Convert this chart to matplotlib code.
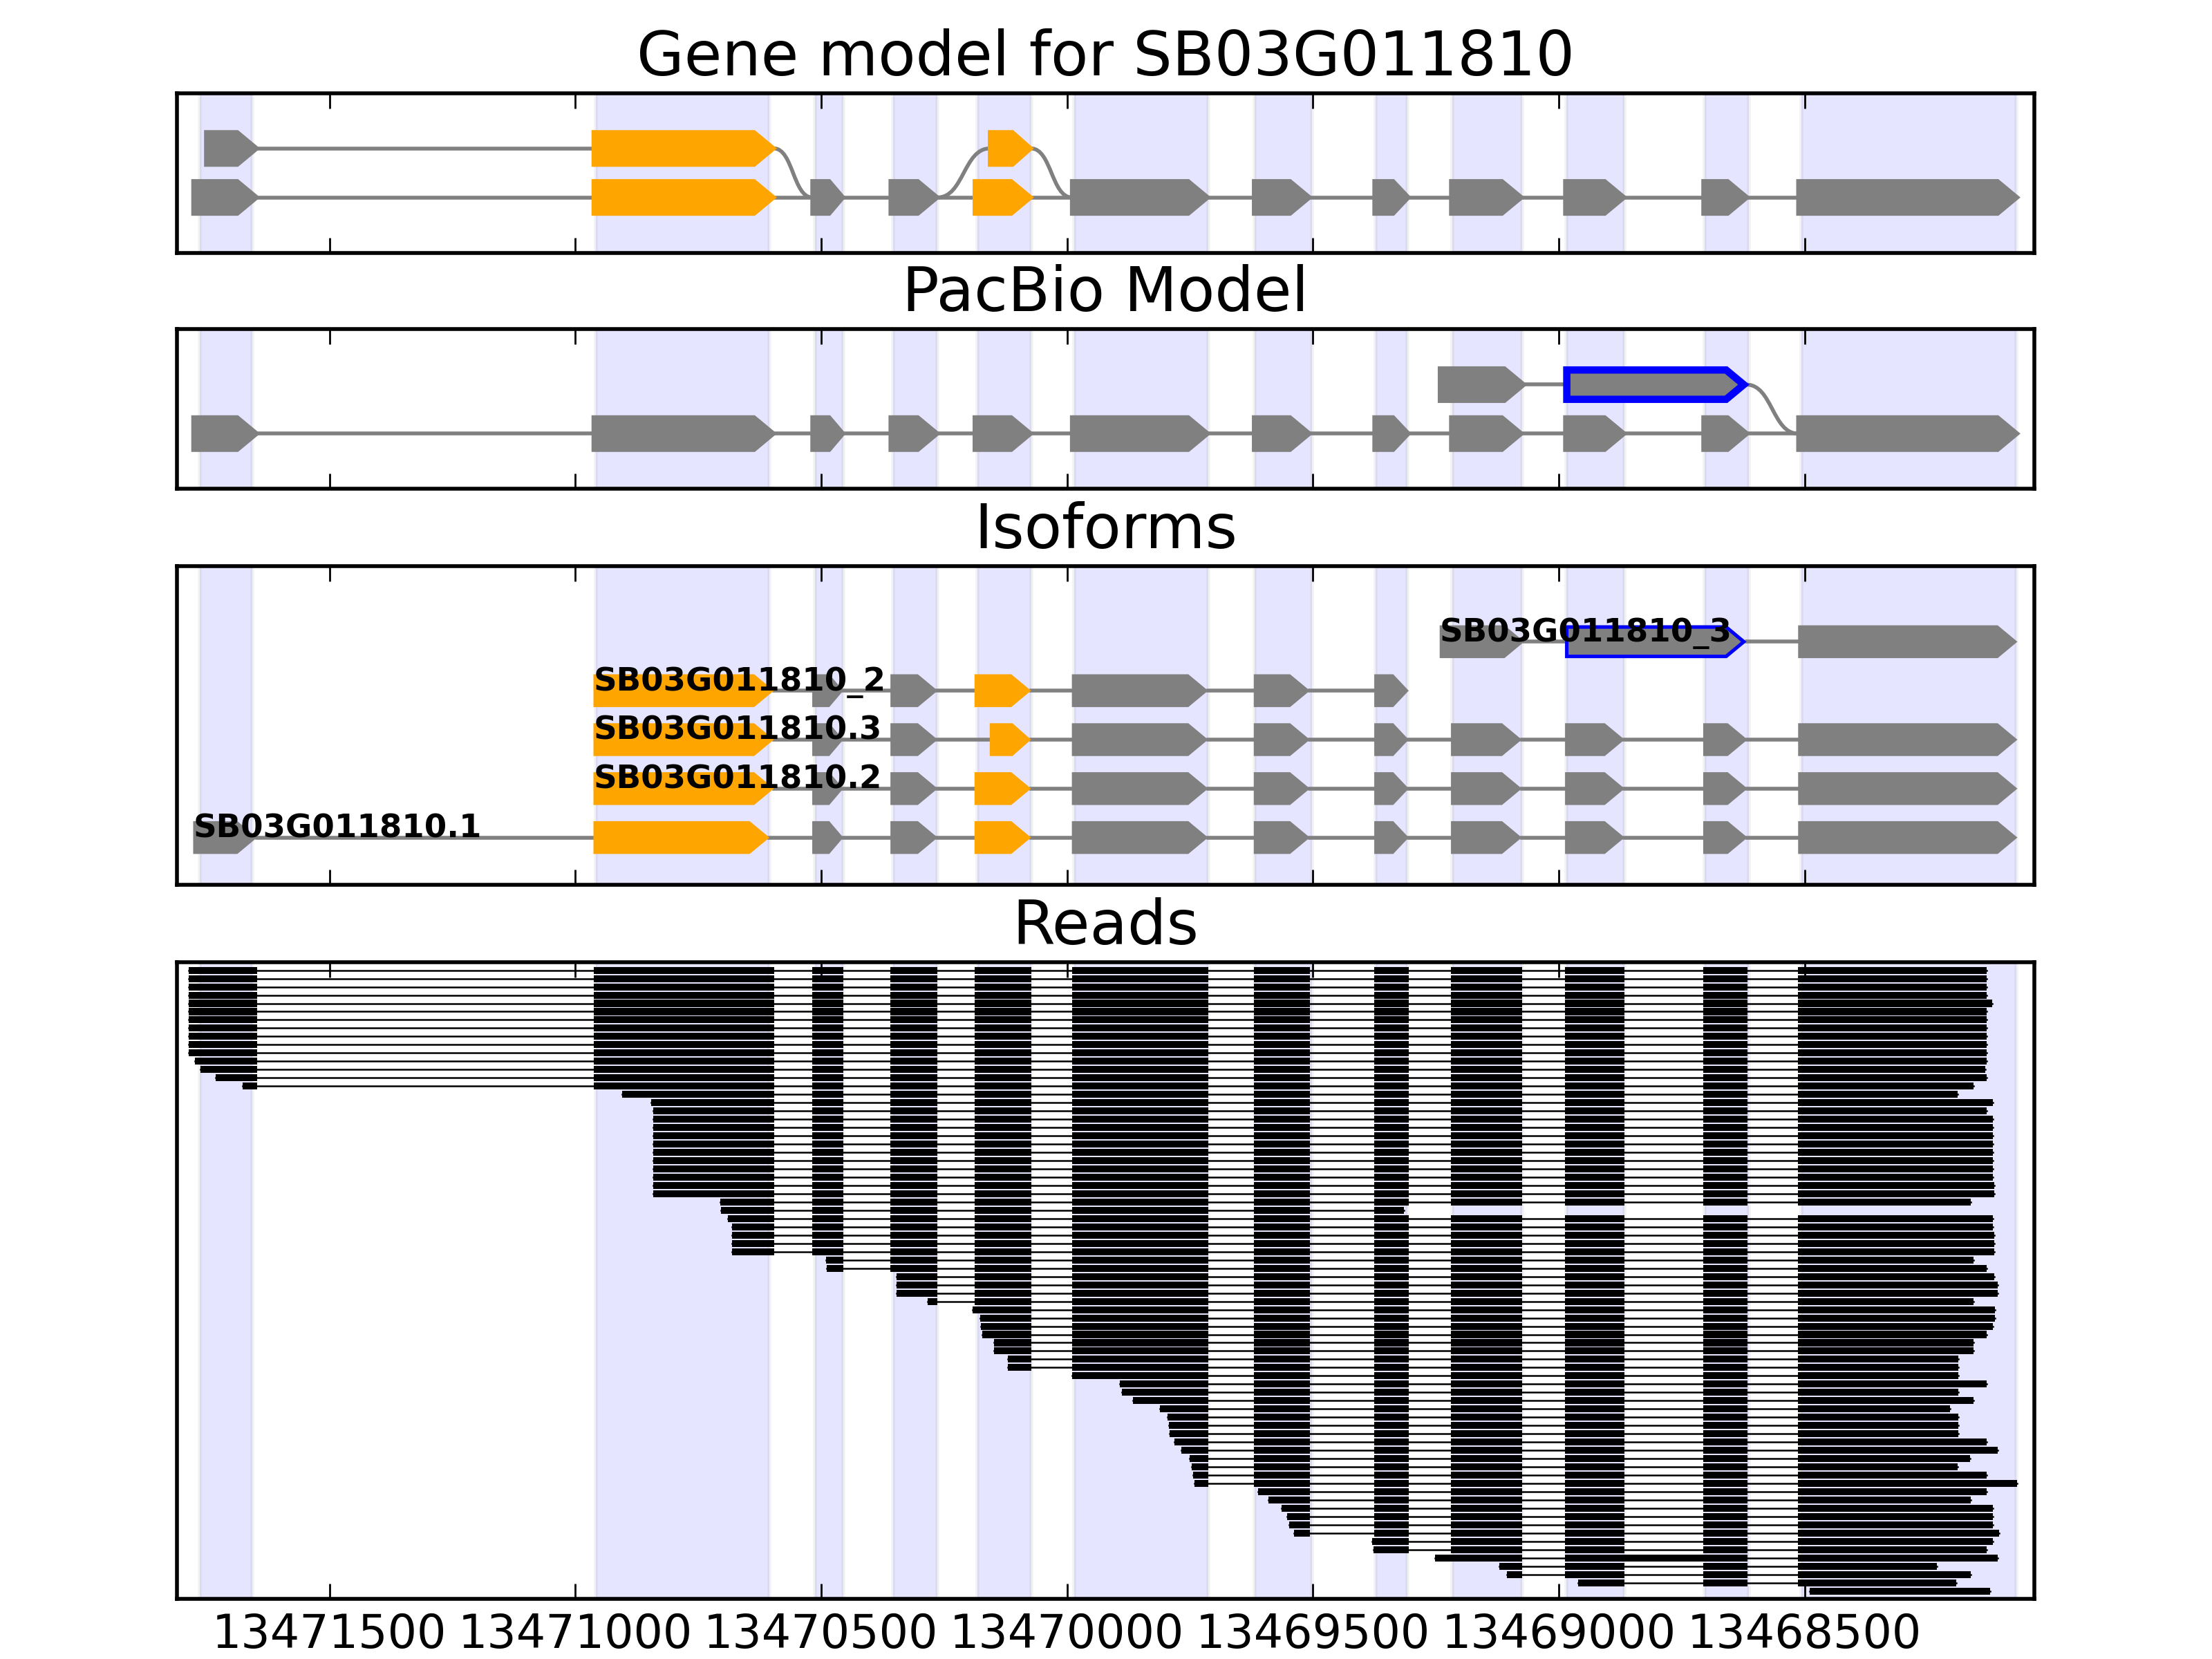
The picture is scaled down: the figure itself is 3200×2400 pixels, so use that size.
import matplotlib
matplotlib.use('Agg')
import matplotlib.pyplot as plt
from matplotlib.patches import Polygon, PathPatch
from matplotlib.path import Path
from matplotlib.ticker import FormatStrFormatter

plt.rcParams['font.family'] = 'DejaVu Sans'
plt.rcParams['font.size'] = 12
plt.rcParams['xtick.direction'] = 'in'
plt.rcParams['xtick.top'] = True
plt.rcParams['xtick.major.size'] = 4
plt.rcParams['xtick.major.width'] = 0.5
plt.rcParams['axes.linewidth'] = 1.0
plt.rcParams['axes.axisbelow'] = False

gene_id = 'SB03G011810'
x_lims = (13471810, 13468033)
tick_positions = [13471500, 13471000, 13470500, 13470000, 13469500, 13469000, 13468500]

# shaded exon clusters (left, right)
cluster_left = [13471764, 13470958, 13470512, 13470354, 13470182, 13469985,
                13469618, 13469372, 13469216, 13468984, 13468703, 13468506]
cluster_right = [13471657, 13470605, 13470455, 13470263, 13470073, 13469713,
                 13469502, 13469308, 13469075, 13468866, 13468613, 13468069]

# canonical exons of the gene (left = higher coordinate, strand is minus)
exon_left = [13471777, 13470963, 13470518, 13470359, 13470188, 13469990,
             13469620, 13469375, 13469219, 13468987, 13468706, 13468513]
exon_right = [13471647, 13470596, 13470455, 13470263, 13470073, 13469713,
              13469506, 13469305, 13469075, 13468866, 13468616, 13468067]
orange_exons = [1, 4]

# alternative exons
alt_first = (13471751, 13471647)
alt_exon5 = (13470157, 13470073)
pb_exon9 = (13469242, 13469070)
retained_10_11 = (13468987, 13468618)

# isoforms (bottom to top)
iso_names = ['SB03G011810.1', 'SB03G011810.2', 'SB03G011810.3',
             'SB03G011810_2', 'SB03G011810_3']
iso_exons = [
    [0, 1, 2, 3, 4, 5, 6, 7, 8, 9, 10, 11],
    [1, 2, 3, 4, 5, 6, 7, 8, 9, 10, 11],
    [1, 2, 3, 'a5', 5, 6, 7, 8, 9, 10, 11],
    [1, 2, 3, 4, 5, 6, 7],
    ['p9', 'ri', 11],
]

# reads, top to bottom
read_starts = [13471786, 13471786, 13471786, 13471786, 13471786, 13471786,
               13471786, 13471786, 13471786, 13471786, 13471786, 13471774,
               13471762, 13471731, 13471676, 13470905, 13470846, 13470842,
               13470842, 13470842, 13470842, 13470842, 13470842, 13470842,
               13470842, 13470842, 13470842, 13470842, 13470705, 13470704,
               13470689, 13470681, 13470681, 13470681, 13470681, 13470490,
               13470488, 13470346, 13470346, 13470346, 13470283, 13470192,
               13470177, 13470175, 13470172, 13470149, 13470149, 13470120,
               13470120, 13469990, 13469893, 13469888, 13469866, 13469811,
               13469796, 13469792, 13469791, 13469781, 13469767, 13469750,
               13469746, 13469744, 13469741, 13469611, 13469590, 13469563,
               13469552, 13469548, 13469538, 13469379, 13469377, 13469251,
               13469120, 13469105, 13468960, 13468490]
read_ends = [13468129, 13468129, 13468129, 13468129, 13468119, 13468129,
             13468129, 13468129, 13468129, 13468129, 13468129, 13468129,
             13468133, 13468129, 13468157, 13468189, 13468117, 13468129,
             13468117, 13468117, 13468117, 13468117, 13468117, 13468117,
             13468117, 13468117, 13468114, 13468114, 13468162, 13469314,
             13468117, 13468117, 13468114, 13468114, 13468114, 13468157,
             13468129, 13468114, 13468107, 13468107, 13468157, 13468113,
             13468113, 13468117, 13468129, 13468157, 13468157, 13468187,
             13468187, 13468187, 13468129, 13468187, 13468157, 13468204,
             13468187, 13468187, 13468187, 13468130, 13468107, 13468163,
             13468189, 13468130, 13468068, 13468130, 13468162, 13468117,
             13468117, 13468117, 13468105, 13468117, 13468130, 13468107,
             13468231, 13468162, 13468192, 13468123]
retained_reads = [71]

EXON_H = 0.67


def exon_pts(left, right, y, h=EXON_H):
    head = min(60 * h, 0.45 * (left - right))
    return [(left, y - h / 2), (right + head, y - h / 2), (right, y),
            (right + head, y + h / 2), (left, y + h / 2)]


def add_exon(ax, ex, y, color, edge):
    p = Polygon(exon_pts(ex[0], ex[1], y), closed=True, facecolor=color,
                edgecolor=color if edge else 'none', lw=1.0 if edge else 0,
                joinstyle='miter', zorder=3)
    ax.add_patch(p)
    return p


def add_outlined(ax, ex, y, edge, inner_pt):
    p = add_exon(ax, ex, y, 'gray', edge)
    if edge:
        p.set_edgecolor('blue')
    q = Polygon(exon_pts(ex[0], ex[1], y), closed=True, facecolor='none',
                edgecolor='blue', lw=inner_pt, joinstyle='miter', zorder=4)
    ax.add_patch(q)
    q.set_clip_path(p)


def intron(ax, x0, y0, x1, y1):
    if y0 == y1:
        ax.plot([x0, x1], [y0, y1], color='gray', lw=1.0, zorder=2)
    else:
        xm = (x0 + x1) / 2.0
        path = Path([(x0, y0), (xm, y0), (xm, y1), (x1, y1)],
                    [Path.MOVETO, Path.CURVE4, Path.CURVE4, Path.CURVE4])
        ax.add_patch(PathPatch(path, facecolor='none', edgecolor='gray',
                               lw=1.0, zorder=2))


def canon(i):
    return (exon_left[i], exon_right[i])


def setup(ax, title, ylim):
    for l, r in zip(cluster_left, cluster_right):
        ax.axvspan(l, r, facecolor='blue', edgecolor='gray', alpha=0.1,
                   lw=1.0, zorder=0)
    ax.set_xlim(x_lims)
    ax.set_ylim(ylim)
    ax.set_xticks(tick_positions)
    ax.xaxis.set_major_formatter(FormatStrFormatter('%d'))
    ax.set_yticks([])
    ax.set_title(title, fontsize=16, pad=4.6)


fig = plt.figure(figsize=(8, 6))
ax1 = fig.add_axes([0.08, 0.84763, 0.8396, 0.09625])
ax2 = fig.add_axes([0.08, 0.70529, 0.8396, 0.0965])
ax3 = fig.add_axes([0.08, 0.46667, 0.8396, 0.19208])
ax4 = fig.add_axes([0.08, 0.03625, 0.8396, 0.38375])

# ---- gene model
setup(ax1, 'Gene model for ' + gene_id, (-1.13, 2.13))
for i in range(len(exon_left)):
    add_exon(ax1, canon(i), 0, 'orange' if i in orange_exons else 'gray', True)
    if i > 0:
        intron(ax1, exon_right[i - 1], 0, exon_left[i], 0)
add_exon(ax1, alt_first, 1, 'gray', True)
add_exon(ax1, canon(1), 1, 'orange', True)
add_exon(ax1, alt_exon5, 1, 'orange', True)
intron(ax1, alt_first[1], 1, exon_left[1], 1)
intron(ax1, exon_right[1], 1, exon_left[2], 0)
intron(ax1, exon_right[3], 0, alt_exon5[0], 1)
intron(ax1, alt_exon5[1], 1, exon_left[5], 0)

# ---- pacbio model
setup(ax2, 'PacBio Model', (-1.13, 2.14))
for i in range(len(exon_left)):
    add_exon(ax2, canon(i), 0, 'gray', True)
    if i > 0:
        intron(ax2, exon_right[i - 1], 0, exon_left[i], 0)
add_exon(ax2, pb_exon9, 1, 'gray', True)
add_outlined(ax2, retained_10_11, 1, True, 2.8)
intron(ax2, pb_exon9[1], 1, retained_10_11[0], 1)
intron(ax2, retained_10_11[1], 1, exon_left[11], 0)

# ---- isoforms
setup(ax3, 'Isoforms', (-0.965, 5.544))
for row, (name, ids) in enumerate(zip(iso_names, iso_exons)):
    exs = []
    for k in ids:
        if k == 'a5':
            exs.append((alt_exon5, 'orange', False))
        elif k == 'p9':
            exs.append((pb_exon9, 'gray', False))
        elif k == 'ri':
            exs.append((retained_10_11, 'gray', True))
        else:
            ex = canon(k)
            if row == 0 and k == 1:
                ex = (exon_left[1], 13470605)
            exs.append((ex, 'orange' if k in orange_exons else 'gray', False))
    for j, (ex, col, outl) in enumerate(exs):
        if outl:
            add_outlined(ax3, ex, row, False, 1.8)
        else:
            add_exon(ax3, ex, row, col, False)
        if j > 0:
            intron(ax3, exs[j - 1][0][1], row, ex[0], row)
    ax3.text(exs[0][0][0], row, name, fontsize=8.4, fontweight='bold',
             ha='left', va='baseline', zorder=6)

# ---- reads
setup(ax4, 'Reads', (75.94, -0.97))
for k, (s, e) in enumerate(zip(read_starts, read_ends)):
    blocks = []
    for i in range(len(exon_left)):
        if exon_right[i] < s and exon_left[i] > e:
            blocks.append([min(exon_left[i], s), max(exon_right[i], e)])
    blocks[0][0] = s
    if k in retained_reads:
        merged = []
        for b in blocks:
            if merged and merged[-1][1] == exon_right[9] and b[0] == exon_left[10]:
                merged[-1][1] = b[1]
            else:
                merged.append(b)
        blocks = merged
    ax4.plot([s, e], [k, k], color='black', lw=0.45, zorder=2)
    ax4.broken_barh([(b[1], b[0] - b[1]) for b in blocks], (k - 0.42, 0.84),
                    facecolors='black', zorder=3)

for ax in (ax1, ax2, ax3):
    ax.tick_params(labelbottom=False)

plt.savefig('out.png', dpi=400, facecolor='white')
